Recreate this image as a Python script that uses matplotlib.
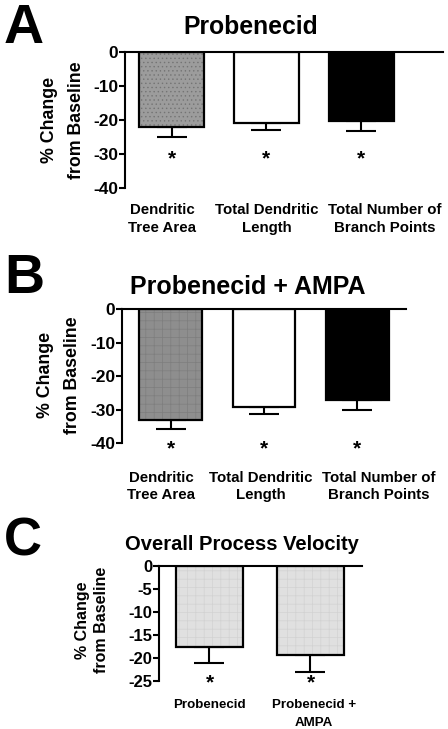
import numpy as np
import matplotlib
matplotlib.use('Agg')
import matplotlib.pyplot as plt

plt.rcParams['font.family'] = ['Liberation Sans', 'DejaVu Sans']
plt.rcParams['font.weight'] = 'bold'
plt.rcParams['hatch.linewidth'] = 0.5

# ==================== data ====================
ab_labels = ['Dendritic\nTree Area', 'Total Dendritic\nLength', 'Total Number of\nBranch Points']
prob_means = [-22.0, -20.8, -20.2]
prob_sem = [3.0, 2.0, 3.0]
ampa_means = [-33.0, -29.2, -27.2]
ampa_sem = [2.9, 2.1, 3.0]
ab_colors = ['#9c9c9c', 'white', 'black']
ab_hatch = ['....', '', '']
ampa_colors = ['#8e8e8e', 'white', 'black']
ampa_hatch = ['++', '', '']

vel_labels = ['Probenecid', 'Probenecid +\nAMPA']
vel_means = [-17.5, -19.4]
vel_sem = [3.5, 3.6]
vel_colors = ['#e0e0e0', '#e0e0e0']
vel_hatch = ['++', '++']

W, H = 448, 729


def px_axes(left, top, right, bottom):
    return [left / W, 1 - bottom / H, (right - left) / W, (bottom - top) / H]


def fx(x):
    return x / W


def fy(y):
    return 1 - y / H


def draw_panel(ax, means, sem, colors, hatches, hatch_color, xlim, width, ylim, yticks,
               star_y, tick_fs):
    x = np.arange(len(means))
    # fill + texture, then black outline on top
    fills = ax.bar(x, means, width=width, color=colors, edgecolor=hatch_color,
                   linewidth=0, zorder=2)
    for p, h in zip(fills, hatches):
        p.set_hatch(h)
    ax.bar(x, means, width=width, fill=False, edgecolor='black', linewidth=1.6, zorder=3)
    ax.errorbar(x, means, yerr=[sem, np.zeros(len(sem))], fmt='none', ecolor='black',
                elinewidth=1.5, capsize=11, capthick=1.5, zorder=1)
    for xi in x:
        ax.text(xi, star_y, '*', ha='center', va='center', fontsize=15,
                fontweight='bold', clip_on=False)
    ax.set_xlim(*xlim)
    ax.set_ylim(*ylim)
    ax.set_yticks(yticks)
    ax.set_yticklabels([str(t) for t in yticks], fontsize=tick_fs, fontweight='bold')
    ax.set_xticks([])
    ax.tick_params(axis='y', length=4, width=1.5, pad=1)
    ax.spines['right'].set_visible(False)
    ax.spines['bottom'].set_visible(False)
    ax.spines['left'].set_linewidth(1.5)
    ax.spines['top'].set_linewidth(1.5)


def category_labels(labels, xs, y_top, fs, ls):
    for lab, xc in zip(labels, xs):
        fig.text(fx(xc), fy(y_top), lab, fontsize=fs, fontweight='bold', ha='center',
                 va='top', multialignment='center', linespacing=ls)


fig = plt.figure(figsize=(W / 100, H / 100), dpi=100)

# panel A
axA = fig.add_axes(px_axes(125, 52, 443, 188))
draw_panel(axA, prob_means, prob_sem, ab_colors, ab_hatch, '#747474', (-0.49, 2.86), 0.68,
           (-40, 0), [0, -10, -20, -30, -40], -31.5, 12.5)
category_labels(ab_labels, [162, 267, 385], 203, 10.8, 1.35)
fig.text(fx(4), fy(29), 'A', fontsize=40, fontweight='bold', ha='left', va='center')
fig.text(fx(251), fy(27), 'Probenecid', fontsize=17.8, fontweight='bold', ha='center', va='center')
fig.text(fx(63), fy(120), '% Change\nfrom Baseline', fontsize=12.8, fontweight='bold',
         rotation=90, ha='center', va='center', multialignment='center', linespacing=1.75)

# panel B
axB = fig.add_axes(px_axes(122, 309, 406, 443))
draw_panel(axB, ampa_means, ampa_sem, ampa_colors, ampa_hatch, '#7e7e7e', (-0.52, 2.52), 0.67,
           (-40, 0), [0, -10, -20, -30, -40], -41.7, 12.5)
category_labels(ab_labels, [161, 261, 379], 471, 10.8, 1.3)
fig.text(fx(4), fy(279), 'B', fontsize=40, fontweight='bold', ha='left', va='center')
fig.text(fx(248), fy(287), 'Probenecid + AMPA', fontsize=18, fontweight='bold', ha='center', va='center')
fig.text(fx(59), fy(375), '% Change\nfrom Baseline', fontsize=12.8, fontweight='bold',
         rotation=90, ha='center', va='center', multialignment='center', linespacing=1.7)

# panel C
axC = fig.add_axes(px_axes(159, 566, 362, 681))
draw_panel(axC, vel_means, vel_sem, vel_colors, vel_hatch, '#d2d2d2', (-0.5, 1.51), 0.66,
           (-25, 0), [0, -5, -10, -15, -20, -25], -25.5, 12)
category_labels(vel_labels, [209, 314], 699, 9.6, 1.65)
fig.text(fx(4), fy(542), 'C', fontsize=38, fontweight='bold', ha='left', va='center')
fig.text(fx(242), fy(545), 'Overall Process Velocity', fontsize=14.5, fontweight='bold',
         ha='center', va='center')
fig.text(fx(92), fy(620), '% Change\nfrom Baseline', fontsize=11.5, fontweight='bold',
         rotation=90, ha='center', va='center', multialignment='center', linespacing=1.3)

fig.savefig('out.png', dpi=100)
plt.close(fig)
